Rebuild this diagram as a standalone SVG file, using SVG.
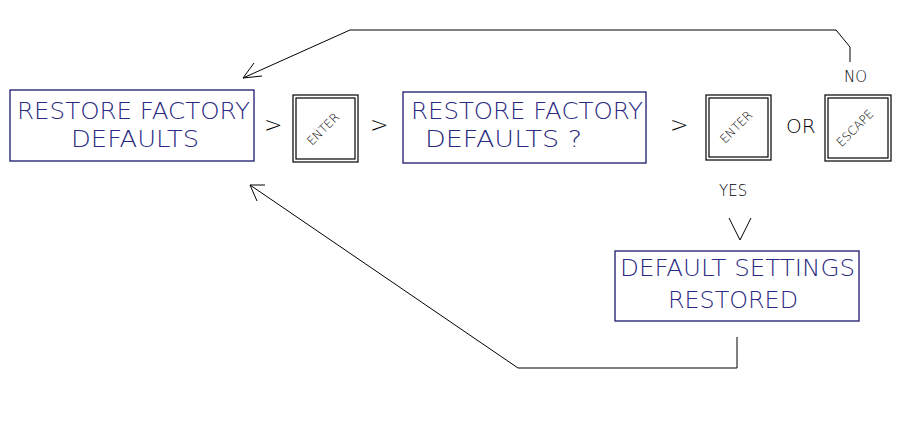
<svg xmlns="http://www.w3.org/2000/svg" width="904" height="421" viewBox="0 0 904 421">
<style>
.box{fill:none;stroke:#1a1a6e;stroke-width:1.3}
.lcd{font-family:"DejaVu Sans","Liberation Sans",sans-serif;font-weight:200;font-size:23px;fill:#2a2a80}
.k{fill:none;stroke:#000;stroke-width:1.2}
.kt{font-family:"DejaVu Sans","Liberation Sans",sans-serif;font-weight:200;font-size:12px;fill:#000;text-anchor:middle}
.t{font-family:"DejaVu Sans","Liberation Sans",sans-serif;font-weight:200;fill:#000}
.ln{fill:none;stroke:#000;stroke-width:1}
</style>
<rect width="904" height="421" fill="#fff"/>
<g id="connectors">
<polyline class="ln" points="850,62 850,47 836,30 350,30 243,78"/>
<polyline class="ln" points="254,63 243,78 262,76"/>
<polyline class="ln" points="737,337 737,368 518,368 250,185"/>
<polyline class="ln" points="265,185 250,185 257,201"/>
<polyline class="ln" points="729,218 740,240 751,218"/>
</g>
<g id="n1"><rect class="box" x="10" y="90" width="244" height="71"/>
<text class="lcd" x="17" y="119" textLength="233" lengthAdjust="spacingAndGlyphs">RESTORE FACTORY</text>
<text class="lcd" x="71" y="147" textLength="128" lengthAdjust="spacingAndGlyphs">DEFAULTS</text></g>
<g id="arr1"><text class="t" x="264" y="132" font-size="22">&gt;</text></g>
<g id="enter1"><rect class="k" x="293" y="95" width="65" height="67"/><rect class="k" x="296" y="98" width="59" height="61"/>
<text class="kt" transform="translate(326,132) rotate(-45)">ENTER</text></g>
<g id="arr2"><text class="t" x="370" y="132" font-size="22">&gt;</text></g>
<g id="n2"><rect class="box" x="403" y="92" width="243" height="71"/>
<text class="lcd" x="411" y="119" textLength="232" lengthAdjust="spacingAndGlyphs">RESTORE FACTORY</text>
<text class="lcd" x="425" y="147" textLength="157" lengthAdjust="spacingAndGlyphs">DEFAULTS ?</text></g>
<g id="arr3"><text class="t" x="670" y="132" font-size="22">&gt;</text></g>
<g id="enter2"><rect class="k" x="706" y="95" width="65" height="65"/><rect class="k" x="709" y="98" width="59" height="59"/>
<text class="kt" transform="translate(739,130) rotate(-45)">ENTER</text></g>
<g id="or"><text class="t" x="786" y="133" font-size="20">OR</text></g>
<g id="escape"><rect class="k" x="825" y="95" width="66" height="66"/><rect class="k" x="828" y="98" width="60" height="60"/>
<text class="kt" transform="translate(858,131) rotate(-45)">ESCAPE</text></g>
<g id="no"><text class="t" x="844" y="82" font-size="15">NO</text></g>
<g id="yes"><text class="t" x="719" y="196" font-size="15">YES</text></g>
<g id="n3"><rect class="box" x="615" y="251" width="244" height="70"/>
<text class="lcd" x="620" y="276" textLength="235" lengthAdjust="spacingAndGlyphs">DEFAULT SETTINGS</text>
<text class="lcd" x="668" y="308" textLength="130" lengthAdjust="spacingAndGlyphs">RESTORED</text></g>
</svg>
